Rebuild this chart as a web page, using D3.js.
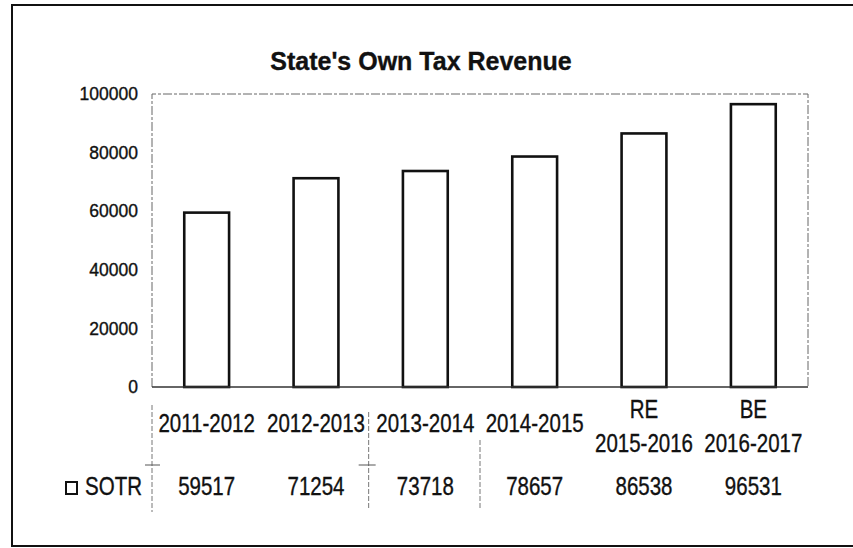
<!DOCTYPE html>
<html>
<head>
<meta charset="utf-8">
<script src="https://cdn.jsdelivr.net/npm/d3@7"></script>
<style>
  body { margin: 0; background: #fff; overflow: hidden; }
  svg { display: block; }
  text { font-family: "Liberation Sans", Arial, sans-serif; fill: #111; stroke: #111; stroke-width: 0.35; }
</style>
</head>
<body>
<svg></svg>
<script>
// chart data
const years = ["2011-2012", "2012-2013", "2013-2014", "2014-2015", "RE\n2015-2016", "BE\n2016-2017"];
const sotr = [59517, 71254, 73718, 78657, 86538, 96531];
const yTicks = [0, 20000, 40000, 60000, 80000, 100000];
const seriesName = "SOTR";
const title = "State's Own Tax Revenue";

const svgWidth = 853;
const svgHeight = 548;
const plot = { left: 152, right: 808, top: 94, bottom: 387 };
const narrow = 0.82; // squeeze to look like Arial Narrow

const svg = d3.select("svg")
  .attr("width", svgWidth)
  .attr("height", svgHeight);

// outer frame (right edge runs off the picture)
svg.append("rect")
  .attr("x", 12).attr("y", 5)
  .attr("width", 860).attr("height", 541)
  .attr("fill", "none").attr("stroke", "#111").attr("stroke-width", 2);

const x = d3.scaleBand()
  .domain(years)
  .range([plot.left, plot.right])
  .paddingInner(0.59)
  .paddingOuter(0.295);

const y = d3.scaleLinear()
  .domain([0, 100000])
  .range([plot.bottom, plot.top]);

svg.append("text")
  .attr("x", 421).attr("y", 70)
  .attr("text-anchor", "middle")
  .style("font-weight", "bold")
  .style("font-size", "25px")
  .text(title);

// plot area frame, faint and broken like the scan
svg.append("path")
  .attr("d", `M${plot.left},${plot.bottom}V${plot.top}H${plot.right}V${plot.bottom}`)
  .attr("fill", "none").attr("stroke", "#666").attr("stroke-width", 1)
  .attr("stroke-dasharray", "9,2,3,2");

// y axis labels only
const yAxis = svg.append("g")
  .attr("transform", `translate(${plot.left},0)`)
  .call(d3.axisLeft(y).tickValues(yTicks).tickSize(0).tickPadding(14).tickFormat(d3.format("d")));
yAxis.select(".domain").remove();
yAxis.selectAll("text")
  .style("font-family", "'Liberation Sans', Arial, sans-serif")
  .style("font-size", "17.5px")
  .attr("fill", "#111");

svg.selectAll("rect.bar")
  .data(sotr)
  .enter()
  .append("rect")
  .attr("class", "bar")
  .attr("x", (d, i) => x(years[i]))
  .attr("y", d => y(d))
  .attr("width", x.bandwidth())
  .attr("height", d => y(0) - y(d))
  .attr("fill", "#fff")
  .attr("stroke", "#111")
  .attr("stroke-width", 2.6);

// base line
svg.append("line")
  .attr("x1", plot.left).attr("x2", plot.right)
  .attr("y1", y(0)).attr("y2", y(0))
  .attr("stroke", "#333").attr("stroke-width", 1.5);

// squeezed text helper
function narrowText(sel, px, py, str, anchor) {
  sel.append("text")
    .attr("transform", `translate(${px},${py}) scale(${narrow},1)`)
    .attr("text-anchor", anchor || "middle")
    .style("font-size", "25px")
    .text(str);
}

// category labels
years.forEach(function(d) {
  const lines = d.split("\n");
  const cx = x(d) + x.bandwidth() / 2;
  if (lines.length === 1) {
    narrowText(svg, cx, 432, lines[0]);
  } else {
    narrowText(svg, cx, 418, lines[0]);
    narrowText(svg, cx, 452, lines[1]);
  }
});

// data table row
sotr.forEach(function(d, i) {
  narrowText(svg, x(years[i]) + x.bandwidth() / 2, 495, d);
});

svg.append("rect")
  .attr("x", 66).attr("y", 482)
  .attr("width", 11).attr("height", 12)
  .attr("fill", "#fff").attr("stroke", "#111").attr("stroke-width", 2);

narrowText(svg, 142, 495, seriesName, "end");

// faint table cell borders left over in the scan
const step = x.step();
const gridLines = [
  { i: 0, y1: 405, y2: 512 },
  { i: 2, y1: 412, y2: 508 },
  { i: 3, y1: 440, y2: 510 }
];
svg.selectAll("line.tbl")
  .data(gridLines)
  .enter()
  .append("line")
  .attr("class", "tbl")
  .attr("x1", d => plot.left + d.i * step - (d.i === 2 ? 2 : 0))
  .attr("x2", d => plot.left + d.i * step - (d.i === 2 ? 2 : 0))
  .attr("y1", d => d.y1).attr("y2", d => d.y2)
  .attr("stroke", "#777").attr("stroke-width", 1)
  .attr("stroke-dasharray", "5,2");

svg.selectAll("line.tick-h")
  .data([0, 2])
  .enter()
  .append("line")
  .attr("class", "tick-h")
  .attr("x1", d => plot.left + d * step - (d === 2 ? 12 : 7))
  .attr("x2", d => plot.left + d * step + (d === 2 ? 5 : 8))
  .attr("y1", 465).attr("y2", 465)
  .attr("stroke", "#555").attr("stroke-width", 1);
</script>
</body>
</html>
